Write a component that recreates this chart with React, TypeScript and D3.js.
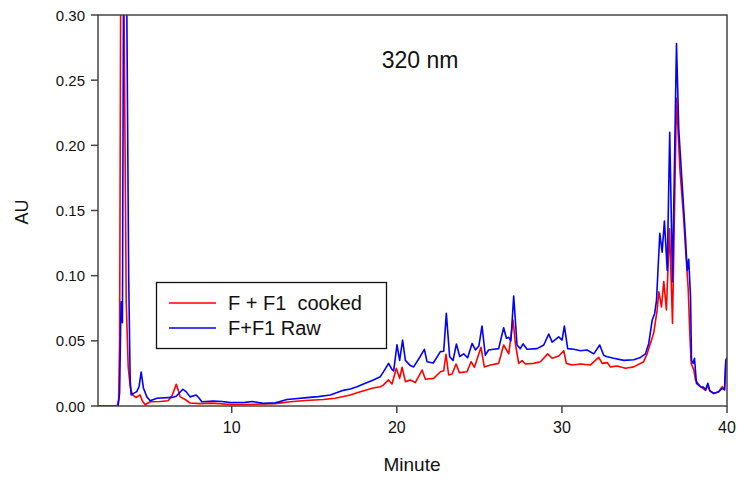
import React from "react";
import * as d3 from "d3";

// Chromatogram traces at 320 nm: [retention time (min), absorbance (AU)]
const rawTrace: [number, number][] = [
  [1.9, 0], [3.12, 0], [3.21, 0.01], [3.27, 0.06], [3.30, 0.08], [3.38, 0.064],
  [3.44, 0.30], [3.545, 0.9], [3.648, 0.30], [3.758, 0.1], [3.848, 0.02], [3.909, 0.0085],
  [4.05, 0.0097], [4.25, 0.011], [4.39, 0.015], [4.515, 0.026], [4.655, 0.0136], [4.86, 0.007],
  [5.06, 0.004], [5.47, 0.006], [6.38, 0.0066], [6.64, 0.0075], [7.04, 0.0128], [7.24, 0.011],
  [7.48, 0.007], [7.85, 0.0084], [8.03, 0.006], [8.19, 0.0033], [8.88, 0.0038], [9.42, 0.0035],
  [9.91, 0.0026], [10.82, 0.0028], [11.24, 0.0035], [11.91, 0.002], [12.64, 0.0024], [13.35, 0.005],
  [14.56, 0.0064], [15.24, 0.0072], [15.97, 0.0084], [16.76, 0.012], [17.18, 0.013], [17.59, 0.0148],
  [18.09, 0.0175], [18.58, 0.02], [19.0, 0.0225], [19.18, 0.026], [19.5, 0.0327], [19.71, 0.028],
  [19.81, 0.027], [20.01, 0.047], [20.17, 0.035], [20.35, 0.0506], [20.52, 0.035], [20.82, 0.031],
  [21.02, 0.030], [21.42, 0.038], [21.67, 0.0435], [21.83, 0.034], [22.21, 0.033], [22.64, 0.0417],
  [22.84, 0.042], [23.0, 0.0711], [23.2, 0.0378], [23.41, 0.035], [23.61, 0.0476], [23.81, 0.038],
  [24.05, 0.040], [24.29, 0.037], [24.56, 0.048], [24.76, 0.043], [24.97, 0.046], [25.16, 0.0614],
  [25.36, 0.039], [25.56, 0.043], [25.87, 0.0435], [26.17, 0.044], [26.47, 0.060], [26.64, 0.052],
  [26.78, 0.0527], [26.91, 0.050], [27.08, 0.0844], [27.28, 0.0468], [27.48, 0.044], [27.65, 0.0476],
  [27.89, 0.0435], [28.5, 0.044], [28.9, 0.0468], [29.2, 0.0552], [29.41, 0.049], [29.81, 0.053],
  [30.01, 0.0506], [30.15, 0.0614], [30.35, 0.044], [30.72, 0.0435], [31.12, 0.0424], [31.53, 0.043],
  [31.93, 0.040], [32.29, 0.0468], [32.53, 0.039], [32.74, 0.0378], [33.14, 0.0366], [33.75, 0.035],
  [34.35, 0.0355], [34.76, 0.0373], [35.06, 0.040], [35.26, 0.048], [35.47, 0.066], [35.62, 0.071],
  [35.73, 0.081], [35.93, 0.1325], [36.07, 0.118], [36.21, 0.142], [36.38, 0.104], [36.53, 0.210],
  [36.70, 0.0954], [36.94, 0.278], [37.08, 0.212], [37.28, 0.171], [37.48, 0.13], [37.59, 0.104],
  [37.68, 0.1125], [37.79, 0.084], [37.85, 0.0353], [37.95, 0.0327], [38.03, 0.0366], [38.15, 0.0174],
  [38.39, 0.0148], [38.58, 0.0145], [38.70, 0.0123], [38.84, 0.0174], [38.96, 0.0118], [39.2, 0.0097],
  [39.5, 0.011], [39.71, 0.0136], [39.85, 0.0123], [39.93, 0.035], [40.0, 0.037],
];

const cookedTrace: [number, number][] = [
  [1.9, 0], [3.06, 0], [3.15, 0.005], [3.21, 0.05], [3.27, 0.30], [3.36, 0.8],
  [3.48, 0.30], [3.61, 0.08], [3.73, 0.03], [3.85, 0.015], [3.97, 0.009], [4.21, 0.0065],
  [4.45, 0.0085], [4.58, 0.004], [4.76, 0.001], [5.06, 0.0033], [5.67, 0.0035], [6.15, 0.004],
  [6.39, 0.008], [6.64, 0.0166], [6.76, 0.012], [6.88, 0.007], [7.18, 0.005], [7.48, 0.0023],
  [8.09, 0.0018], [8.7, 0.0022], [9.3, 0.0018], [9.91, 0.001], [10.82, 0.0012], [11.91, 0.0015],
  [12.64, 0.0018], [13.55, 0.0033], [14.45, 0.0042], [15.55, 0.005], [16.27, 0.006], [17.18, 0.0084],
  [17.79, 0.011], [18.58, 0.0138], [19.0, 0.0148], [19.18, 0.016], [19.5, 0.020], [19.71, 0.0169],
  [19.97, 0.029], [20.17, 0.0212], [20.32, 0.0297], [20.52, 0.0187], [20.82, 0.020], [21.12, 0.018],
  [21.53, 0.0276], [21.73, 0.0205], [22.23, 0.0212], [22.64, 0.0263], [22.84, 0.027], [22.98, 0.0397],
  [23.14, 0.0238], [23.35, 0.0245], [23.59, 0.0322], [23.79, 0.0256], [24.25, 0.0263], [24.5, 0.034],
  [24.7, 0.0297], [25.1, 0.045], [25.3, 0.030], [25.67, 0.0315], [26.17, 0.0327], [26.47, 0.0468],
  [26.78, 0.040], [27.04, 0.066], [27.18, 0.048], [27.38, 0.0327], [27.59, 0.0348], [27.79, 0.0322],
  [28.29, 0.0327], [28.7, 0.034], [29.14, 0.040], [29.41, 0.0366], [29.81, 0.0384], [30.11, 0.0424],
  [30.27, 0.0327], [30.62, 0.0315], [31.12, 0.0322], [31.73, 0.0315], [32.23, 0.0373], [32.44, 0.0327],
  [32.74, 0.0333], [32.94, 0.030], [33.35, 0.0307], [33.85, 0.029], [34.35, 0.030], [34.95, 0.034],
  [35.16, 0.040], [35.36, 0.048], [35.56, 0.056], [35.77, 0.0737], [35.87, 0.0877], [36.03, 0.076],
  [36.17, 0.0954], [36.33, 0.0737], [36.52, 0.136], [36.70, 0.0634], [36.94, 0.236], [37.15, 0.181],
  [37.37, 0.145], [37.48, 0.122], [37.65, 0.090], [37.74, 0.058], [37.83, 0.0327], [37.99, 0.0276],
  [38.09, 0.020], [38.39, 0.0148], [38.7, 0.012], [38.84, 0.016], [38.96, 0.0115], [39.2, 0.0095],
  [39.5, 0.011], [39.71, 0.0148], [39.85, 0.0125], [39.93, 0.035], [40.0, 0.037],
];

const xTicks = [10, 20, 30, 40];
const yTicks = [0, 0.05, 0.1, 0.15, 0.2, 0.25, 0.3];

const series = [
  { name: "F + F1  cooked", color: "#ff0000", data: cookedTrace },
  { name: "F+F1 Raw", color: "#0000ff", data: rawTrace },
];

const W = 737;
const H = 478;
const left = 98;
const right = 727;
const top = 15;
const bottom = 406;

export default function App() {
  const x = d3.scaleLinear().domain([1.9, 40]).range([left, right]);
  const y = d3.scaleLinear().domain([0, 0.3]).range([bottom, top]);
  const line = d3
    .line<[number, number]>()
    .x((d) => x(d[0]))
    .y((d) => y(d[1]));

  const font = "Arial, 'Liberation Sans', sans-serif";
  const axisColor = "#444";

  return (
    <svg
      width={W}
      height={H}
      style={{ position: "absolute", left: 0, top: 0, background: "#fff" }}
      fontFamily={font}
    >
      <defs>
        <clipPath id="plot-clip">
          <rect x={left} y={top} width={right - left} height={bottom - top} />
        </clipPath>
      </defs>

      <g clipPath="url(#plot-clip)">
        {series.map((s) => (
          <path
            key={s.name}
            d={line(s.data) || ""}
            fill="none"
            stroke={s.color}
            strokeWidth={1.6}
            strokeLinejoin="round"
          />
        ))}
      </g>

      {/* frame */}
      <rect
        x={left}
        y={top}
        width={right - left}
        height={bottom - top}
        fill="none"
        stroke={axisColor}
        strokeWidth={1.5}
      />

      {/* x axis ticks */}
      {xTicks.map((t) => (
        <g key={t}>
          <line x1={x(t)} x2={x(t)} y1={bottom} y2={bottom + 7} stroke={axisColor} strokeWidth={1.5} />
          <text x={x(t)} y={433} textAnchor="middle" fontSize={16} fill="#111">
            {t}
          </text>
        </g>
      ))}

      {/* y axis ticks */}
      {yTicks.map((t) => (
        <g key={t}>
          <line x1={left - 7} x2={left} y1={y(t)} y2={y(t)} stroke={axisColor} strokeWidth={1.5} />
          <text x={85} y={y(t) + 5.5} textAnchor="end" fontSize={15} fill="#111">
            {t.toFixed(2)}
          </text>
        </g>
      ))}

      <text x={412} y={471} textAnchor="middle" fontSize={19} fill="#111">
        Minute
      </text>
      <text
        transform={`translate(28, 212) rotate(-90)`}
        textAnchor="middle"
        fontSize={18}
        fill="#111"
      >
        AU
      </text>
      <text x={420} y={68} textAnchor="middle" fontSize={23} fill="#111">
        320 nm
      </text>

      {/* legend */}
      <rect x={156.5} y={282.5} width={230} height={66} fill="#fff" stroke="#111" strokeWidth={1.3} />
      {series.map((s, i) => (
        <g key={s.name}>
          <line x1={169} x2={216} y1={303 + i * 25} y2={303 + i * 25} stroke={s.color} strokeWidth={1.5} />
          <text x={228} y={310 + i * 24.5} fontSize={20} fill="#111" style={{ whiteSpace: "pre" }}>
            {s.name}
          </text>
        </g>
      ))}
    </svg>
  );
}
